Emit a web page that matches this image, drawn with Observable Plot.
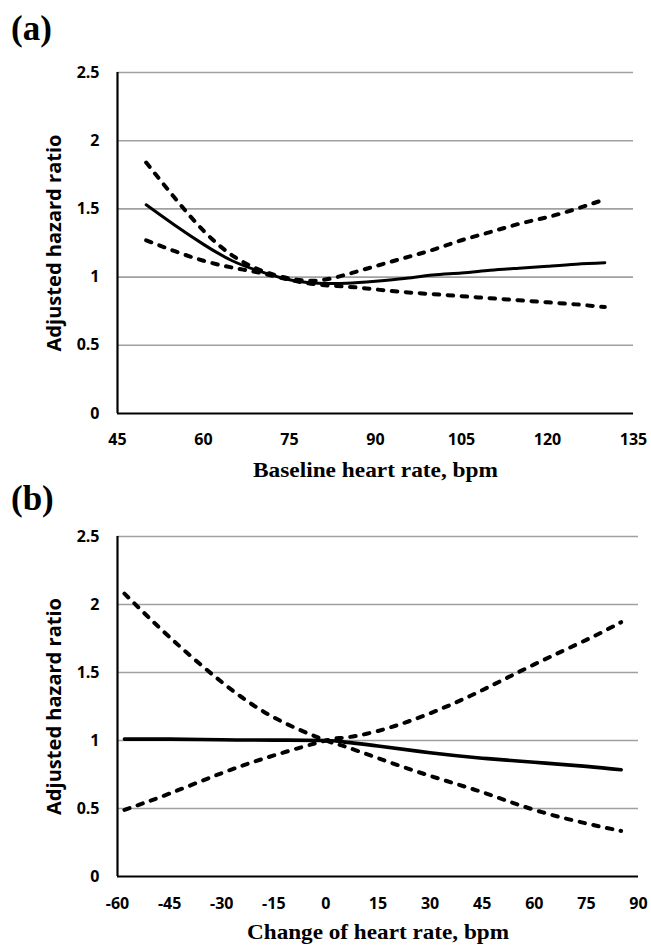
<!DOCTYPE html>
<html><head><meta charset="utf-8">
<script src="https://cdn.jsdelivr.net/npm/d3@7"></script>
<script src="https://cdn.jsdelivr.net/npm/@observablehq/plot@0.6"></script>
<style>
body{margin:0;background:#fff;}
#wrap{position:relative;width:651px;height:946px;overflow:hidden;background:#fff}
.panel{position:absolute;z-index:2;left:11px;font-family:"Liberation Serif",serif;font-weight:bold;font-size:35px;line-height:1;color:#000}
.plot{position:absolute;left:0;z-index:1}
</style></head><body>
<div id="wrap">
  <div class="plot" id="pa" style="top:50px"></div>
  <div class="plot" id="pb" style="top:500px"></div>
  <div class="panel" style="top:11px">(a)</div>
  <div class="panel" style="top:481px">(b)</div>
</div>
<script>
// Panel (a): baseline heart rate
const hrA    = [50, 55, 60, 65, 70, 75, 80, 85, 90, 95, 100, 105, 110, 115, 120, 125, 130];
const estA   = [1.53, 1.38, 1.24, 1.12, 1.04, 0.98, 0.955, 0.955, 0.97, 0.99, 1.015, 1.03, 1.05, 1.065, 1.08, 1.095, 1.105];
const upperA = [1.84, 1.58, 1.34, 1.16, 1.05, 0.99, 0.975, 1.02, 1.08, 1.14, 1.20, 1.27, 1.33, 1.39, 1.44, 1.50, 1.57];
const lowerA = [1.27, 1.19, 1.12, 1.07, 1.03, 0.98, 0.945, 0.93, 0.91, 0.89, 0.875, 0.86, 0.845, 0.83, 0.815, 0.80, 0.78];
const xTicksA = [45, 60, 75, 90, 105, 120, 135];

// Panel (b): change of heart rate
const hrB    = [-58, -45, -30, -15, 0, 5, 15, 30, 45, 60, 75, 85];
const estB   = [1.01, 1.01, 1.005, 1.003, 1.0, 0.99, 0.96, 0.91, 0.87, 0.84, 0.81, 0.785];
const riseB  = [0.49, 0.61, 0.76, 0.89, 1.00, 1.02, 1.07, 1.20, 1.37, 1.56, 1.74, 1.87];
const fallB  = [2.08, 1.76, 1.43, 1.17, 1.00, 0.96, 0.87, 0.74, 0.62, 0.49, 0.39, 0.335];
const xTicksB = [-60, -45, -30, -15, 0, 15, 30, 45, 60, 75, 90];

const yTicks = [0, 0.5, 1, 1.5, 2, 2.5];
const yTitle = "Adjusted hazard ratio";
const xTitleA = "Baseline heart rate, bpm";
const xTitleB = "Change of heart rate, bpm";

const rows = (xs, ys) => xs.map((x, i) => ({x, y: ys[i]}));

function panel({height, marginTop, marginBottom, marginRight, xDomain, xTicks, tickPadX, series, xTitle, titleDy, solidW}) {
  const dash = {stroke: "#000", strokeWidth: 4, strokeDasharray: "5.5,8.5", strokeLinecap: "round", curve: "natural"};
  return Plot.plot({
    width: 651, height,
    marginLeft: 117, marginRight, marginTop, marginBottom,
    x: {domain: xDomain, ticks: xTicks, tickSize: 0, tickPadding: tickPadX, label: null, tickFormat: d => String(d)},
    y: {domain: [0, 2.5], ticks: yTicks, tickSize: 0, tickPadding: 18, label: null, tickFormat: d => String(d)},
    style: {fontFamily: "'Open Sans', sans-serif", fontWeight: "bold", fontSize: "16px", color: "#000", background: "#fff", overflow: "visible"},
    marks: [
      Plot.ruleY(yTicks.filter(d => d > 0), {stroke: "#a0a0a0", strokeWidth: 1.6}),
      Plot.ruleX([xDomain[0]], {stroke: "#000", strokeWidth: 2.2}),
      Plot.ruleY([0], {stroke: "#000", strokeWidth: 2.2}),
      Plot.line(series[1], {x: "x", y: "y", ...dash}),
      Plot.line(series[2], {x: "x", y: "y", ...dash}),
      Plot.line(series[0], {x: "x", y: "y", stroke: "#000", strokeWidth: solidW, strokeLinecap: "round", curve: "natural"}),
      Plot.text([yTitle], {frameAnchor: "left", dx: -63, rotate: -90, textAnchor: "middle", lineAnchor: "middle",
        fontFamily: "'Open Sans', sans-serif", fontWeight: "bold", fontSize: 20}),
      Plot.text([xTitle], {frameAnchor: "bottom", dy: titleDy, textAnchor: "middle", lineAnchor: "middle",
        fontFamily: "'Liberation Serif', serif", fontWeight: "bold", fontSize: 22})
    ]
  });
}

const plotA = panel({
  height: 435, marginTop: 22, marginBottom: 72, marginRight: 18,
  xDomain: [45, 135], xTicks: xTicksA, tickPadX: 20,
  series: [rows(hrA, estA), rows(hrA, upperA), rows(hrA, lowerA)],
  xTitle: xTitleA, titleDy: 56.5, solidW: 3
});
const plotB = panel({
  height: 446, marginTop: 36, marginBottom: 70, marginRight: 13,
  xDomain: [-60, 90], xTicks: xTicksB, tickPadX: 21,
  series: [rows(hrB, estB), rows(hrB, riseB), rows(hrB, fallB)],
  xTitle: xTitleB, titleDy: 55.5, solidW: 3.6
});
document.getElementById("pa").appendChild(plotA);
document.getElementById("pb").appendChild(plotB);

// fit title widths to the reference
const lengths = {[yTitle]: 217, [xTitleA]: 245, [xTitleB]: 262};
document.querySelectorAll("svg text").forEach(t => {
  const L = lengths[t.textContent];
  if (L) { t.setAttribute("textLength", L); t.setAttribute("lengthAdjust", "spacingAndGlyphs"); }
});
</script>
</body></html>
